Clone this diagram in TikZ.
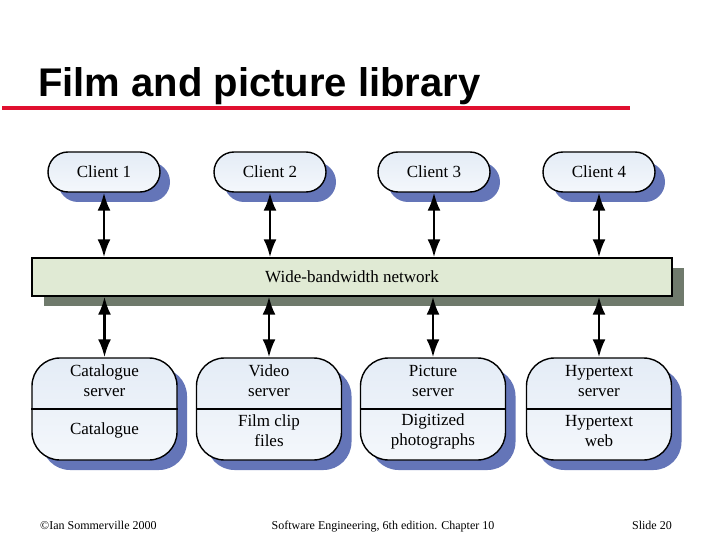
\documentclass[tikz,border=0pt]{standalone}
\usepackage{fontspec}
\setmainfont{Liberation Serif}
\newfontfamily\titlefont{Liberation Sans}
\usepackage{xcolor}
\usepackage{tikz}
\usetikzlibrary{arrows.meta, positioning, shadows}

\definecolor{shadowblue}{HTML}{6475B8}
\definecolor{shadowgrey}{HTML}{6F7A6C}
\definecolor{boxblue}{HTML}{E4ECF6}
\definecolor{netgreen}{HTML}{E0EAD4}
\definecolor{titlered}{HTML}{E0102F}

\begin{document}
\begin{tikzpicture}[
    x=1pt, y=1pt,
    client/.style={rectangle, draw=black, line width=1.4pt, rounded corners=20pt, top color=boxblue, bottom color=white!60!boxblue, minimum width=112pt, minimum height=40pt, font=\fontsize{17}{20}\selectfont, drop shadow={shadow xshift=10pt, shadow yshift=-10pt, fill=shadowblue, opacity=1}},
    server/.style={rectangle, draw=black, line width=1.4pt, rounded corners=28pt, top color=boxblue, bottom color=white!60!boxblue, minimum width=145pt, minimum height=102pt, drop shadow={shadow xshift=10pt, shadow yshift=-10pt, fill=shadowblue, opacity=1}},
    stext/.style={align=center, font=\fontsize{17}{20}\selectfont},
    line/.style={draw=black, line width=2.6pt, {Latex[length=18pt, width=13pt]}-{Latex[length=18pt, width=13pt]}}
]
    \useasboundingbox (0,0) rectangle (720,-540);

    % Title with red rule
    \node[anchor=base west, inner sep=0pt, font=\titlefont\bfseries\fontsize{40}{46}\selectfont] (TITLE) at (38,-97) {Film and picture library};
    \fill[titlered] (2,-106) rectangle (630,-110);

    % Clients
    \node[client] (C1) at (104,-172) {Client 1};
    \node[client] (C2) at (270,-172) {Client 2};
    \node[client] (C3) at (434,-172) {Client 3};
    \node[client] (C4) at (599,-172) {Client 4};

    % Network
    \node[rectangle, draw=black, line width=1.4pt, fill=netgreen, minimum width=640pt, minimum height=38pt, font=\fontsize{17}{20}\selectfont, drop shadow={shadow xshift=12pt, shadow yshift=-10pt, fill=shadowgrey, opacity=1}] (NET) at (352,-277) {Wide-bandwidth network};

    % Servers
    \node[server] (S1) at (104.5,-409) {};
    \node[server] (S2) at (269,-409) {};
    \node[server] (S3) at (433,-409) {};
    \node[server] (S4) at (599,-409) {};
    \foreach \s in {S1,S2,S3,S4}
        \draw[line width=1.4pt] (\s.west) -- (\s.east);

    \node[stext] (S1a) at ([yshift=28pt]S1.center) {Catalogue\\server};
    \node[stext] (S1b) at ([yshift=-21pt]S1.center) {Catalogue};
    \node[stext] (S2a) at ([yshift=28pt]S2.center) {Video\\server};
    \node[stext] (S2b) at ([yshift=-22pt]S2.center) {Film clip\\files};
    \node[stext] (S3a) at ([yshift=28pt]S3.center) {Picture\\server};
    \node[stext] (S3b) at ([yshift=-22pt]S3.center) {Digitized\\photographs};
    \node[stext] (S4a) at ([yshift=28pt]S4.center) {Hypertext\\server};
    \node[stext] (S4b) at ([yshift=-22pt]S4.center) {Hypertext\\web};

    % Connections to the network
    \draw[line] (C1.south) -- (C1.south |- NET.north);
    \draw[line] (C2.south) -- (C2.south |- NET.north);
    \draw[line] (C3.south) -- (C3.south |- NET.north);
    \draw[line] (C4.south) -- (C4.south |- NET.north);
    \draw[line] (S1.north |- NET.south) -- (S1.north);
    \draw[line] (S2.north |- NET.south) -- (S2.north);
    \draw[line] (S3.north |- NET.south) -- (S3.north);
    \draw[line] (S4.north |- NET.south) -- (S4.north);

    % Footer
    \node[anchor=base west, inner sep=0pt, font=\fontsize{12}{14}\selectfont] (COPY) at (40,-529) {\textcopyright Ian Sommerville 2000};
    \node[anchor=base, inner sep=0pt, font=\fontsize{12}{14}\selectfont] (BOOK) at (383,-529) {Software Engineering, 6th edition. Chapter 10};
    \node[anchor=base east, inner sep=0pt, font=\fontsize{12}{14}\selectfont] (SLIDE) at (672,-529) {Slide 20};
\end{tikzpicture}
\end{document}
